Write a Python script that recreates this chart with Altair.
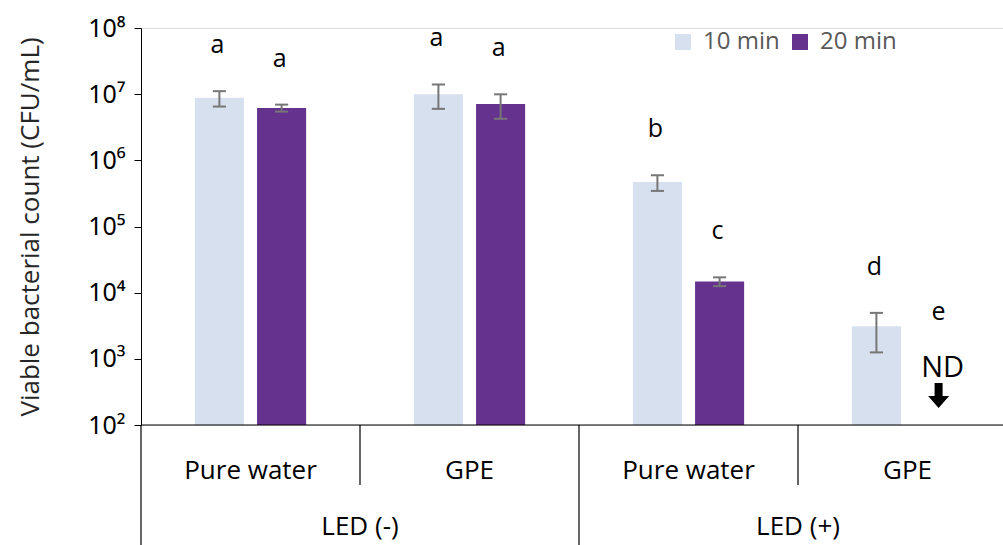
import altair as alt
import pandas as pd

# Viable counts (CFU/mL), mean and SD, per treatment
solutions = ["Pure water", "GPE", "Pure water", "GPE"]
led_groups = ["LED (-)", "LED (-)", "LED (+)", "LED (+)"]
time_labels = ["10 min", "20 min"]
mean_10 = [8.8e6, 1.0e7, 4.7e5, 3.1e3]
sd_10 = [2.3e6, 4.0e6, 1.25e5, 1.85e3]
mean_20 = [6.2e6, 7.1e6, 1.48e4, None]   # last one not detected
sd_20 = [0.75e6, 2.85e6, 2.25e3, None]
letters_10 = ["a", "a", "b", "d"]
letters_20 = ["a", "a", "c", "e"]
y_ticks = [1e2, 1e3, 1e4, 1e5, 1e6, 1e7, 1e8]

LIGHT = "#D7E0EF"
PURPLE = "#65328E"
FONT = "Open Sans"

W, H = 862, 397
UNIT = 219.0                      # pixels per category slot
X_MAX = W / UNIT
BASE = y_ticks[0]
SHIFT, HALF, CAP = 0.142, 0.112, 0.03

rows = []
for i in range(len(solutions)):
    for t, means, sds, letters, s in [
        (time_labels[0], mean_10, sd_10, letters_10, -SHIFT),
        (time_labels[1], mean_20, sd_20, letters_20, SHIFT),
    ]:
        xc = i + 0.5 + s
        m, sd = means[i], sds[i]
        rows.append(dict(
            time=t, xc=xc, x0=xc - HALF, x1=xc + HALF,
            c0=xc - CAP, c1=xc + CAP,
            mean=m, lo=(m - sd) if m is not None else None,
            hi=(m + sd) if m is not None else None,
            letter=letters[i], base=BASE, nd=m is None,
        ))
df = pd.DataFrame(rows)
bars_df = df[~df["nd"]]
nd_df = df[df["nd"]]

sup = {2: "²", 3: "³", 4: "⁴", 5: "⁵", 6: "⁶", 7: "⁷", 8: "⁸"}
label_expr = ""
for v in y_ticks:
    e = len(str(int(v))) - 1
    label_expr += f"datum.value < {v * 1.5} ? '10{sup[e]}' : "
label_expr += "''"

xs = alt.Scale(domain=[0, X_MAX], nice=False, zero=False)
ys = alt.Scale(type="log", domain=[BASE, y_ticks[-1]], nice=False)

y_axis = alt.Axis(
    values=y_ticks, labelExpr=label_expr, grid=False,
    labelFont="Noto Sans", labelFontSize=25, labelColor="#000000",
    labelPadding=9, tickSize=7, tickColor="#000000", domainColor="#000000",
    title="Viable bacterial count (CFU/mL)", titleFont=FONT, titleFontSize=26,
    titleFontWeight="normal", titleColor="#262626", titleX=-111, titleY=H / 2,
    titleAngle=270, titleAlign="center", titleBaseline="middle",
)

bars = alt.Chart(bars_df).mark_bar().encode(
    x=alt.X("x0:Q", scale=xs, axis=None),
    x2="x1:Q",
    y=alt.Y("mean:Q", scale=ys, axis=y_axis),
    y2="base:Q",
    color=alt.Color(
        "time:N",
        scale=alt.Scale(domain=time_labels, range=[LIGHT, PURPLE]),
        legend=alt.Legend(
            title=None, orient="none", legendX=530, legendY=2,
            direction="horizontal", symbolType="square", symbolSize=256,
            symbolStrokeWidth=0, labelFont=FONT, labelFontSize=24,
            labelColor="#595959", labelOffset=8, columnPadding=8,
        ),
    ),
)

err = alt.Chart(bars_df).mark_rule(color="#777777", strokeWidth=2).encode(
    x="xc:Q", y="lo:Q", y2="hi:Q")
cap_hi = alt.Chart(bars_df).mark_rule(color="#777777", strokeWidth=2).encode(
    x="c0:Q", x2="c1:Q", y="hi:Q")
cap_lo = alt.Chart(bars_df).mark_rule(color="#777777", strokeWidth=2).encode(
    x="c0:Q", x2="c1:Q", y="lo:Q")

letters = alt.Chart(bars_df).mark_text(
    font=FONT, fontSize=25, color="#000000", dy=-46, dx=-2, baseline="middle"
).encode(x="xc:Q", y="hi:Q", text="letter:N")

nd_letter = alt.Chart(nd_df).mark_text(
    font=FONT, fontSize=25, color="#000000", dy=-113, baseline="middle"
).encode(x="xc:Q", y="base:Q", text="letter:N")
nd_text = alt.Chart(nd_df).mark_text(
    font=FONT, fontSize=29, color="#000000", dy=-57, baseline="middle", dx=4
).encode(x="xc:Q", y="base:Q", text=alt.value("ND"))
arrow_path = ("M-0.32,-3.36 L0.32,-3.36 L0.32,-2.32 L0.84,-2.32 "
              "L0,-1.36 L-0.84,-2.32 L-0.32,-2.32 Z")
nd_arrow = alt.Chart(nd_df).mark_point(
    shape=arrow_path, size=625, filled=True, color="#000000", opacity=1,
    strokeWidth=0,
).encode(x="xc:Q", y="base:Q")

# category axis below the plot
one = pd.DataFrame({"k": [0]})
baseline = alt.Chart(one).mark_rule(color="#000000", strokeWidth=1.2).encode(
    x=alt.value(0), x2=alt.value(W), y=alt.value(H))
left_ext = alt.Chart(one).mark_rule(color="#000000", strokeWidth=1.2).encode(
    x=alt.value(0), y=alt.value(H), y2=alt.value(H + 120))

cats = pd.DataFrame({"pos": [i + 0.5 for i in range(len(solutions))],
                     "solution": solutions})
cat_text = alt.Chart(cats).mark_text(
    font=FONT, fontSize=26, color="#000000", baseline="middle"
).encode(x=alt.X("pos:Q", scale=xs), y=alt.value(443), text="solution:N")

bounds = pd.DataFrame({
    "pos": [float(i) for i in range(1, len(solutions))],
    "long": [led_groups[i - 1] != led_groups[i] for i in range(1, len(solutions))],
})
short_div = alt.Chart(bounds[~bounds["long"]]).mark_rule(
    color="#000000", strokeWidth=1.2
).encode(x=alt.X("pos:Q", scale=xs), y=alt.value(H), y2=alt.value(H + 60))
long_div = alt.Chart(bounds[bounds["long"]]).mark_rule(
    color="#000000", strokeWidth=1.2
).encode(x=alt.X("pos:Q", scale=xs), y=alt.value(H), y2=alt.value(H + 120))

grp_names = list(dict.fromkeys(led_groups))
grp = pd.DataFrame({
    "group": grp_names,
    "pos": [sum(i + 0.5 for i, g in enumerate(led_groups) if g == n) /
            led_groups.count(n) for n in grp_names],
})
grp_text = alt.Chart(grp).mark_text(
    font=FONT, fontSize=26, color="#000000", baseline="middle"
).encode(x=alt.X("pos:Q", scale=xs), y=alt.value(499), text="group:N")

chart = alt.layer(
    bars, err, cap_hi, cap_lo, letters, nd_letter, nd_text, nd_arrow,
    baseline, left_ext, short_div, long_div, cat_text, grp_text,
).properties(
    width=W, height=H,
    autosize=alt.AutoSizeParams(type="none"),
    padding={"left": 141, "top": 28, "right": 0, "bottom": 120},
).configure_view(stroke=None).configure(background="#ffffff")

chart.save("out.html", embed_options={"renderer": "svg", "actions": False})
